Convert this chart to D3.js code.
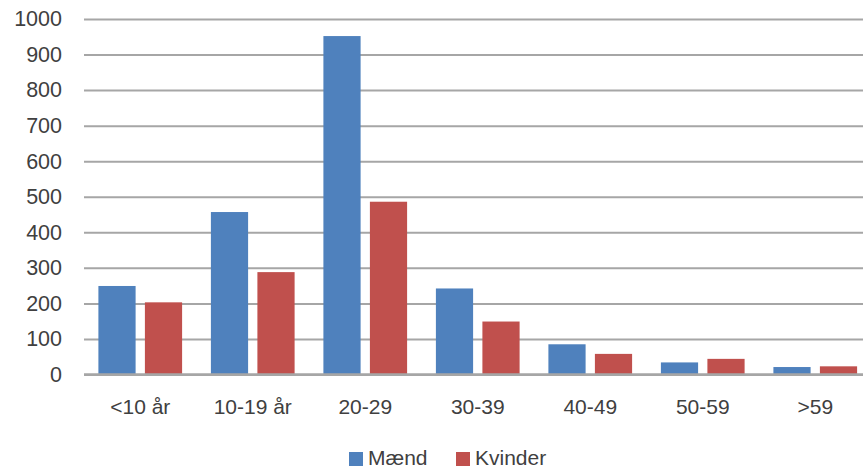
<!DOCTYPE html>
<html><head><meta charset="utf-8">
<script src="https://cdn.jsdelivr.net/npm/d3@7"></script>
<style>body{margin:0;background:#fff}svg{display:block}</style>
</head><body>
<svg id="chart" width="863" height="470"></svg>
<script>
const categories = ["<10 år", "10-19 år", "20-29", "30-39", "40-49", "50-59", ">59"];
const seriesNames = ["Mænd", "Kvinder"];
const maend = [249, 457, 952, 242, 85, 34, 21];
const kvinder = [203, 288, 486, 149, 58, 44, 23];
const yTicks = [0, 100, 200, 300, 400, 500, 600, 700, 800, 900, 1000];
const colors = ["#4F81BD", "#C0504D"];

const svg = d3.select("#chart");
const font = "'Liberation Sans', Arial, sans-serif";
const x0 = d3.scaleBand().domain(categories).range([84, 871.5]).paddingInner(0.256).paddingOuter(0.128);
const x1 = d3.scaleBand().domain(seriesNames).range([0, x0.bandwidth()]).paddingInner(0.2);
const y = d3.scaleLinear().domain([0, 1000]).range([374.5, 19]);

// gridlines + y labels
const yAxis = d3.axisLeft(y).tickValues(yTicks).tickSize(-(871.5 - 84)).tickPadding(22).tickFormat(d3.format("d"));
const gy = svg.append("g").attr("transform", "translate(84,0)").call(yAxis);
gy.select(".domain").remove();
gy.selectAll(".tick line").attr("stroke", "#a6a6a6").attr("stroke-width", 2);
gy.selectAll(".tick text").attr("fill", "#404040").style("font-family", font).style("font-size", "21.5px").attr("x", -22);

const data = categories.map((c, i) => ({c, vals: [maend[i], kvinder[i]]}));
const groups = svg.append("g").selectAll("g").data(data).join("g")
  .attr("transform", d => `translate(${x0(d.c)},0)`);
groups.selectAll("rect").data(d => d.vals.map((v, j) => ({v, s: seriesNames[j], j})))
  .join("rect")
  .attr("x", d => x1(d.s))
  .attr("width", x1.bandwidth())
  .attr("y", d => y(d.v))
  .attr("height", d => y(0) - y(d.v))
  .attr("fill", d => colors[d.j]);

// baseline
svg.append("line").attr("x1", 84).attr("x2", 871.5).attr("y1", y(0)).attr("y2", y(0))
  .attr("stroke", "#a6a6a6").attr("stroke-width", 2.5);

// x axis labels
const xAxis = d3.axisBottom(x0).tickSize(0).tickPadding(25);
const gx = svg.append("g").attr("transform", `translate(0,${y(0)})`).call(xAxis);
gx.select(".domain").remove();
gx.selectAll(".tick text").attr("fill", "#404040").style("font-family", font).style("font-size", "21px");

// legend
const legend = svg.append("g");
const legX = [349, 456];
seriesNames.forEach((s, i) => {
  legend.append("rect").attr("x", legX[i]).attr("y", 452).attr("width", 14).attr("height", 14).attr("fill", colors[i]);
  legend.append("text").attr("x", legX[i] + 19).attr("y", 465).text(s)
    .attr("fill", "#404040").style("font-family", font).style("font-size", "21px");
});
</script>
</body></html>
